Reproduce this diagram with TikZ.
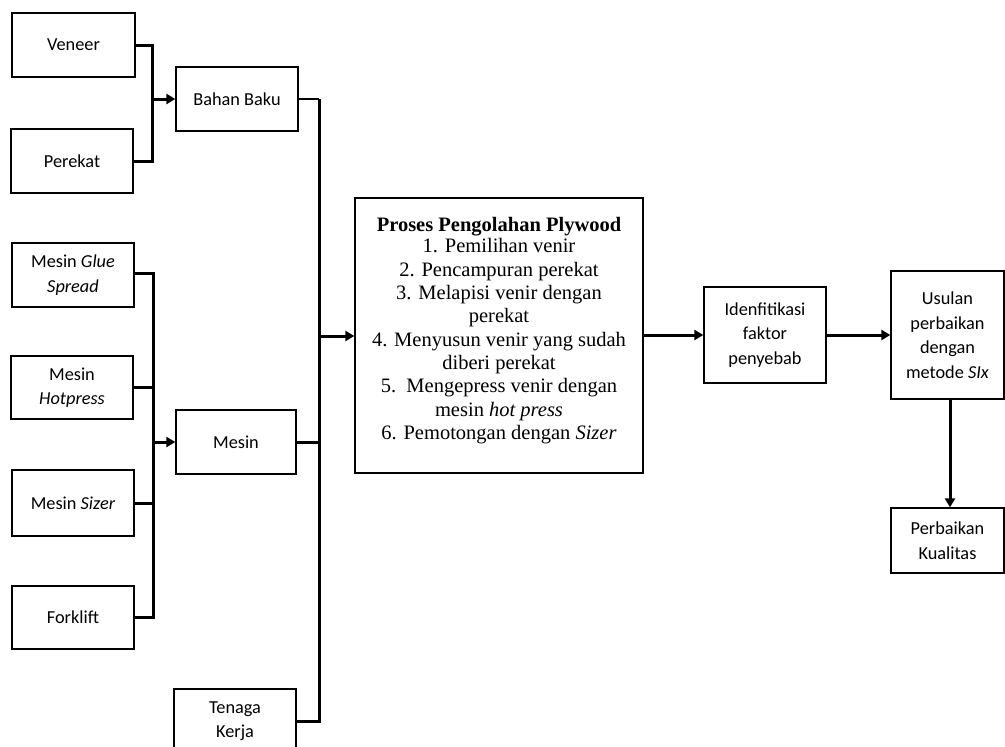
\documentclass[tikz,border=0pt]{standalone}
\usepackage{fontspec}
\setmainfont{Carlito}
\newfontfamily\tnr{Liberation Serif}
\usetikzlibrary{arrows.meta}
\tikzset{
  box/.style={draw, line width=1.3pt, inner sep=0pt, align=center, font=\fontsize{18.3}{24.5}\selectfont},
  thick line/.style={line width=3pt},
  thin line/.style={line width=1.5pt},
  arr/.style={line width=3pt, -{Triangle[length=9pt,width=10pt]}},
}
\begin{document}
\begin{tikzpicture}[x=1pt,y=-1pt]
\clip (0,0) rectangle (1005,747);
\fill[white] (0,0) rectangle (1005,747);
% left column
\node[box, minimum width=123pt, minimum height=64pt] (veneer) at (73.5,45) {Veneer};
\node[box, minimum width=122pt, minimum height=64pt] (perekat) at (72,161) {Perekat};
\node[box, minimum width=122pt, minimum height=64pt] (glue) at (73,275) {Mesin \textit{Glue}\\\textit{Spread}};
\node[box, minimum width=122pt, minimum height=63pt] (hot) at (72,387.5) {Mesin\\\textit{Hotpress}};
\node[box, minimum width=122pt, minimum height=66pt] (sizer) at (73,503) {Mesin \textit{Sizer}};
\node[box, minimum width=122pt, minimum height=63pt] (fork) at (73,617.5) {Forklift};
% middle column
\node[box, minimum width=122pt, minimum height=64pt] (bahan) at (237,99) {Bahan Baku};
\node[box, minimum width=120pt, minimum height=64pt] (mesin) at (236,442) {Mesin};
\node[box, minimum width=122pt, minimum height=64pt] (tenaga) at (235,721) {Tenaga\\Kerja};
% main process
\node[box, minimum width=288pt, minimum height=275pt, font=\tnr\fontsize{20.5}{23.3}\selectfont] (main) at (499,335.5) {%
\textbf{Proses Pengolahan Plywood}\\[-2pt]
1. Pemilihan venir\\
2. Pencampuran perekat\\
3. Melapisi venir dengan\\
perekat\\
4. Menyusun venir yang sudah\\
diberi perekat\\
5.\ \ Mengepress venir dengan\\
mesin \textit{hot press}\\
6. Pemotongan dengan \textit{Sizer}\\[-9pt]\mbox{}};
% right part
\node[box, minimum width=122pt, minimum height=96pt] (ident) at (765,335) {Idenfitikasi\\faktor\\penyebab};
\node[box, minimum width=113pt, minimum height=128pt] (usulan) at (947.5,335) {Usulan\\perbaikan\\dengan\\metode \textit{SIx}};
\node[box, minimum width=113pt, minimum height=65pt] (perbaikan) at (947.5,540.5) {Perbaikan\\Kualitas};
% coordinates
\coordinate (b1) at (152,99);
\coordinate (b2) at (153,442);
\coordinate (m) at (319,336);
% bahan baku bracket
\draw[thick line] (veneer.east) -- (152,45) -- (152,161) -- (perekat.east);
\draw[arr] (b1) -- (bahan.west);
% mesin bracket
\draw[thick line] (glue.east |- 0,273) -- (153,273) -- (153,617.5) -- (fork.east);
\draw[thick line] (hot.east) -- (153,387.5);
\draw[thick line] (sizer.east) -- (153,503);
\draw[arr] (b2) -- (mesin.west);
% main bracket
\draw[thin line] (bahan.east) -- (319,99);
\draw[thick line] (319,99) -- (319,721) -- (tenaga.east);
\draw[thick line] (mesin.east) -- (319,442);
\draw[arr] (m) -- (main.west |- m);
% right flow
\draw[arr] (main.east |- ident.west) -- (ident.west);
\draw[arr] (ident.east) -- (usulan.west);
\draw[arr] (usulan.south -| 950,0) -- (perbaikan.north -| 950,0);
\end{tikzpicture}
\end{document}
